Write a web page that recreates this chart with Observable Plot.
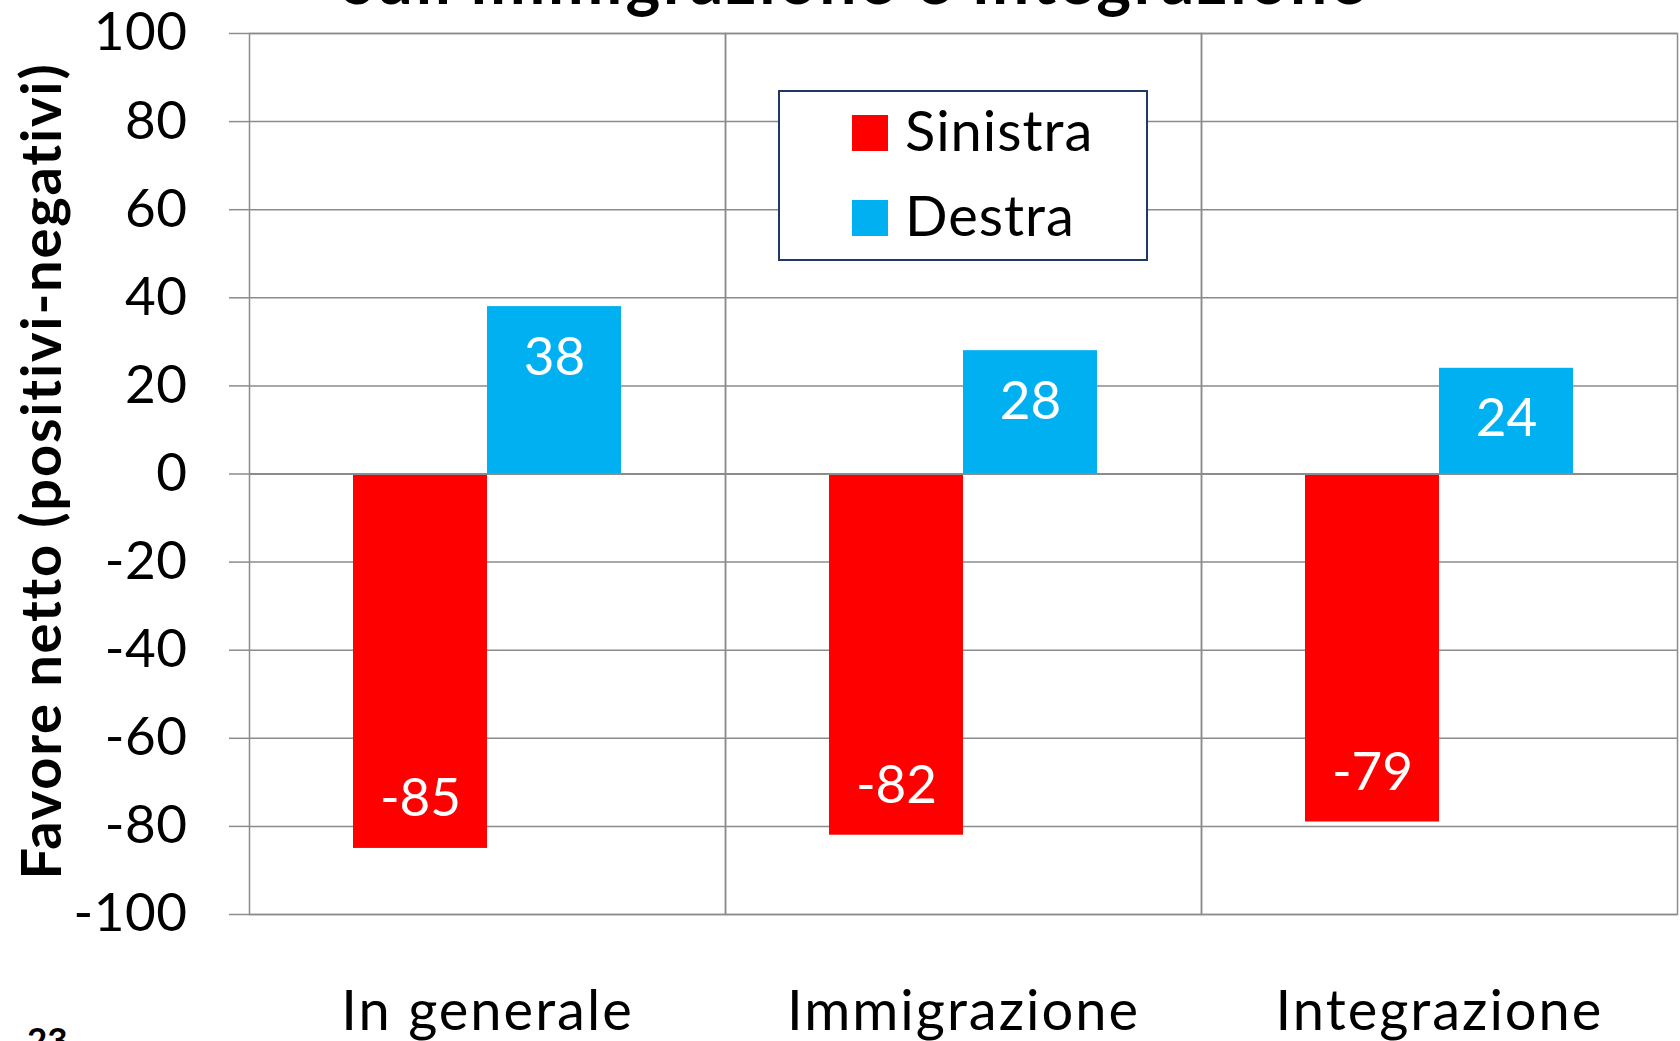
<!DOCTYPE html>
<html>
<head>
<meta charset="utf-8">
<script src="https://cdn.jsdelivr.net/npm/d3@7"></script>
<script src="https://cdn.jsdelivr.net/npm/@observablehq/plot@0.6"></script>
<style>
  html, body { margin: 0; padding: 0; background: #fff; overflow: hidden; }
  #wrap { position: relative; width: 1680px; height: 1041px; }
  #chart svg { display: block; }
  #overlay { position: absolute; left: 0; top: 0; pointer-events: none; font-family: Lato, sans-serif; }
  [aria-label^="y-axis"] line, [aria-label="y-axis tick"] path { stroke: #8c8c8c; stroke-width: 1.5px; }
  [aria-label^="y-axis"] text { fill: #000; font-size: 53px; letter-spacing: 0.5px; }
  [aria-label^="fx-axis"] text { fill: #000; font-size: 56px; letter-spacing: 2px; }
</style>
</head>
<body>
<div id="wrap">
  <div id="chart"></div>
  <svg id="overlay" width="1680" height="1041"></svg>
</div>
<script>
const categories = ["In generale", "Immigrazione", "Integrazione"];
const series = ["Sinistra", "Destra"];
const colors = ["#FF0000", "#00B0F0"];
const sinistra = [-85, -82, -79];
const destra = [38, 28, 24];
const yTicks = [-100, -80, -60, -40, -20, 0, 20, 40, 60, 80, 100];
const titleText = "sull'immigrazione e integrazione";
const yLabel = "Favore netto (positivi-negativi)";
const pageNumber = "23";

const data = categories.flatMap((c, i) => [
  {category: c, series: series[0], value: sinistra[i]},
  {category: c, series: series[1], value: destra[i]}
]);

const grid = "#8c8c8c";

const chart = Plot.plot({
  width: 1680,
  height: 1041,
  marginTop: 33,
  marginBottom: 127,
  marginLeft: 248,
  marginRight: 2,
  style: {fontFamily: "Lato, sans-serif", fontSize: "52px", color: "#000", background: "transparent", overflow: "hidden"},
  fx: {domain: categories, padding: 0, label: null, tickSize: 0, tickPadding: 76, axis: "bottom"},
  x: {domain: series, paddingInner: 0, paddingOuter: 0.77, axis: null},
  y: {domain: [-100, 100], ticks: yTicks, tickSize: 20, tickPadding: 42, label: null, tickFormat: d => `${d}`},
  color: {domain: series, range: colors},
  marks: [
    Plot.ruleY(yTicks, {stroke: grid, strokeWidth: 1.5}),
    Plot.frame({stroke: grid, strokeWidth: 1.5}),
    Plot.barY(data, {fx: "category", x: "series", y: "value", fill: "series"}),
    Plot.ruleY([0], {stroke: grid, strokeWidth: 2.2}),
    Plot.text(data.filter(d => d.value >= 0), {fx: "category", x: "series", y: "value", text: d => `${d.value}`, fill: "white", fontSize: 53, dy: 51, lineAnchor: "middle"}),
    Plot.text(data.filter(d => d.value < 0), {fx: "category", x: "series", y: "value", text: d => `${d.value}`, fill: "white", fontSize: 53, dy: -49, lineAnchor: "middle"})
  ]
});
document.getElementById("chart").append(chart);

// Overlay: title (cut off at top, as in the original), y label, legend, page number
const ov = d3.select("#overlay");
ov.append("text")
  .attr("x", 856).attr("y", 4)
  .attr("text-anchor", "middle")
  .attr("font-weight", "bold").attr("font-size", 66)
  .style("letter-spacing", "2.7px")
  .text(titleText);
ov.append("text")
  .attr("transform", "translate(61,471) rotate(-90)")
  .attr("text-anchor", "middle")
  .attr("font-weight", "bold").attr("font-size", 56)
  .style("letter-spacing", "1.8px")
  .text(yLabel);
ov.append("text")
  .attr("x", 27).attr("y", 1053)
  .attr("font-weight", "bold").attr("font-size", 35)
  .text(pageNumber);

const lg = ov.append("g");
lg.append("rect")
  .attr("x", 779).attr("y", 91).attr("width", 368).attr("height", 169)
  .attr("fill", "#fff").attr("stroke", "#203864").attr("stroke-width", 2);
series.forEach((s, i) => {
  const y0 = [115, 200][i];
  lg.append("rect").attr("x", 852).attr("y", y0).attr("width", 36).attr("height", 36).attr("fill", colors[i]);
  lg.append("text").attr("x", 905).attr("y", y0 + 36).attr("font-size", 56)
    .style("letter-spacing", "1px").attr("fill", "#000").text(s);
});
</script>
</body>
</html>
